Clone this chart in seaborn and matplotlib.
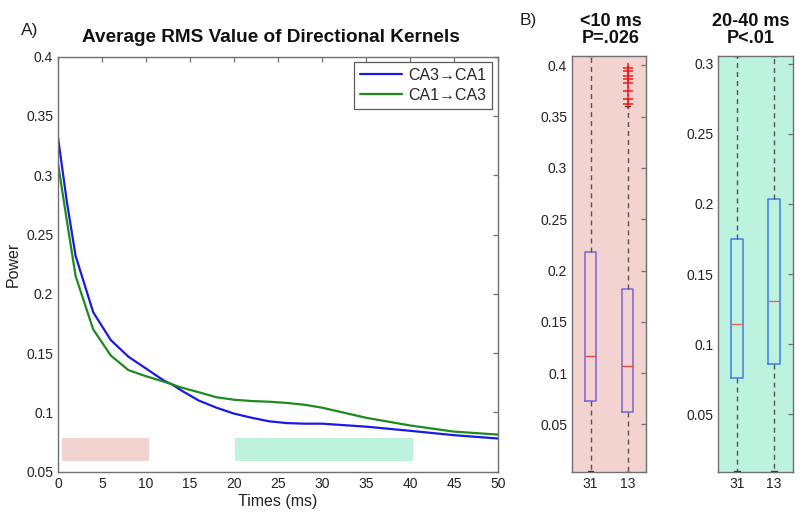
import numpy as np
import pandas as pd
import matplotlib
matplotlib.use('Agg')
import matplotlib.pyplot as plt
from matplotlib.ticker import FuncFormatter
import seaborn as sns

# ---- panel A: average RMS curves ----
times = [0, 1, 2, 4, 6, 8, 10, 12, 13, 14, 16, 18, 20, 22, 24, 26, 28, 30, 35, 40, 45, 50]
ca3_ca1 = [0.332, 0.278, 0.232, 0.1845, 0.161, 0.147, 0.137, 0.127, 0.1234, 0.1186, 0.110,
           0.104, 0.099, 0.0955, 0.0925, 0.091, 0.0905, 0.0905, 0.088, 0.0845, 0.0808, 0.078]
ca1_ca3 = [0.310, 0.262, 0.215, 0.170, 0.148, 0.1357, 0.1305, 0.126, 0.1236, 0.121, 0.117,
           0.1128, 0.1107, 0.1096, 0.109, 0.108, 0.1065, 0.104, 0.0955, 0.089, 0.0838, 0.0813]
series_names = ['CA3\u2192CA1', 'CA1\u2192CA3']
series_colors = ['#1a1ae6', '#1f8a1f']

# shaded windows under the curves
win_pink = [0.4, 10.3]
win_teal = [20.1, 40.3]
win_band = [0.0593, 0.0788]

# ---- panel B: boxplots ----
box_labels = ['31', '13']
b1_q1 = [0.073, 0.062]
b1_med = [0.117, 0.107]
b1_q3 = [0.218, 0.182]
b1_lo = [0.005, 0.004]
b1_hi = [0.409, 0.360]
b1_fliers = [[], [0.362, 0.367, 0.375, 0.383, 0.387, 0.390, 0.394, 0.397]]

b2_q1 = [0.0757, 0.086]
b2_med = [0.1145, 0.131]
b2_q3 = [0.175, 0.2036]
b2_lo = [0.0095, 0.009]
b2_hi = [0.3057, 0.3057]
b2_fliers = [[], []]

PINK = '#f2d3d0'
TEAL = '#bdf2df'
SPINE = '#707070'

sns.set_theme(style='white')
plt.rcParams['font.family'] = ['Liberation Sans', 'DejaVu Sans']
plt.rcParams['axes.edgecolor'] = SPINE
plt.rcParams['axes.linewidth'] = 1.0

W, H = 800, 520
fig = plt.figure(figsize=(8, 5.2), dpi=100)


def rect(left, top, right, bottom):
    return [left / W, 1 - bottom / H, (right - left) / W, (bottom - top) / H]


def style_ticks(ax, xlen=3.5):
    ax.tick_params(axis='both', direction='in', length=3.5, width=0.9, color=SPINE,
                   labelsize=10, labelcolor='#222222', pad=3.5)
    ax.tick_params(axis='x', length=xlen)
    ax.tick_params(axis='y', right=True)


fmt = FuncFormatter(lambda v, p: '%g' % round(v, 3))

# ===== Panel A =====
axA = fig.add_axes(rect(58, 56.7, 498, 471.7))
df = pd.DataFrame({
    'time': times * 2,
    'power': ca3_ca1 + ca1_ca3,
    'direction': [series_names[0]] * len(times) + [series_names[1]] * len(times),
})
sns.lineplot(data=df, x='time', y='power', hue='direction', hue_order=series_names,
             palette=dict(zip(series_names, series_colors)), linewidth=1.6, ax=axA)

axA.fill_between(win_pink, win_band[0], win_band[1], color=PINK, lw=0)
axA.fill_between(win_teal, win_band[0], win_band[1], color=TEAL, lw=0)

axA.set_xlim(0, 50)
axA.set_ylim(0.05, 0.4)
axA.set_xticks(np.arange(0, 51, 5))
axA.set_yticks(np.arange(0.05, 0.401, 0.05))
axA.yaxis.set_major_formatter(fmt)
style_ticks(axA)
axA.tick_params(axis='x', top=True)
axA.set_xlabel('Times (ms)', fontsize=11.5, color='#222222')
axA.xaxis.set_label_coords(0.5, -0.073)
axA.xaxis.label.set_va('center')
axA.set_ylabel('Power', fontsize=11.5, color='#222222')
axA.yaxis.set_label_coords(-0.102, 0.5)
axA.yaxis.label.set_va('center')

leg = axA.legend(loc='upper right', bbox_to_anchor=(0.987, 0.988), borderaxespad=0,
                 fontsize=11.5, frameon=True, fancybox=False, handlelength=2.6,
                 handletextpad=0.4, borderpad=0.4, labelspacing=0.3)
leg.get_frame().set_edgecolor('#333333')
leg.get_frame().set_linewidth(0.9)

fig.text(271 / W, 1 - 37 / H, 'Average RMS Value of Directional Kernels',
         ha='center', va='center', fontsize=13.7, fontweight='bold', color='#111111')
fig.text(21 / W, 1 - 31 / H, 'A)', ha='left', va='center', fontsize=12.5, color='#222222')
fig.text(520 / W, 1 - 21 / H, 'B)', ha='left', va='center', fontsize=12.5, color='#222222')


# ===== Panel B =====
def draw_boxes(ax, q1, med, q3, lo, hi, fliers, ylim, yticks, bg, box_color, med_color):
    stats = []
    for i in range(len(box_labels)):
        stats.append(dict(label=box_labels[i], q1=q1[i], med=med[i], q3=q3[i],
                          whislo=lo[i], whishi=hi[i], fliers=fliers[i]))
    ax.set_facecolor(bg)
    ax.bxp(stats, positions=[1, 2], widths=0.31, capwidths=0.16, showfliers=True,
           boxprops=dict(color=box_color, linewidth=1.1),
           medianprops=dict(color=med_color, linewidth=1.0),
           whiskerprops=dict(color='#555555', linewidth=1.0, linestyle=(0, (3.6, 2.9))),
           capprops=dict(color='#333333', linewidth=1.0),
           flierprops=dict(marker='+', markeredgecolor='#ee1c1c', markersize=7,
                           markeredgewidth=1.1, linestyle='none'))
    ax.set_xlim(0.5, 2.5)
    ax.set_ylim(*ylim)
    ax.set_yticks(yticks)
    ax.yaxis.set_major_formatter(fmt)
    style_ticks(ax, xlen=0)
    ax.tick_params(axis='x', pad=4)


axB1 = fig.add_axes(rect(572, 56, 646, 471.7))
draw_boxes(axB1, b1_q1, b1_med, b1_q3, b1_lo, b1_hi, b1_fliers, (0.004, 0.409),
           np.arange(0.05, 0.401, 0.05), PINK, '#7a62dc', '#e04848')

axB2 = fig.add_axes(rect(718.3, 56, 792.7, 471.7))
draw_boxes(axB2, b2_q1, b2_med, b2_q3, b2_lo, b2_hi, b2_fliers, (0.0088, 0.3057),
           np.arange(0.05, 0.301, 0.05), TEAL, '#3f7fe6', '#f06060')

fig.text(611 / W, 1 - 30 / H, '<10 ms\nP=.026', ha='center', va='center',
         fontsize=13, fontweight='bold', linespacing=1.05, color='#111111')
fig.text(751 / W, 1 - 30 / H, '20-40 ms\nP<.01', ha='center', va='center',
         fontsize=13, fontweight='bold', linespacing=1.05, color='#111111')

fig.savefig('out.png', dpi=100)
